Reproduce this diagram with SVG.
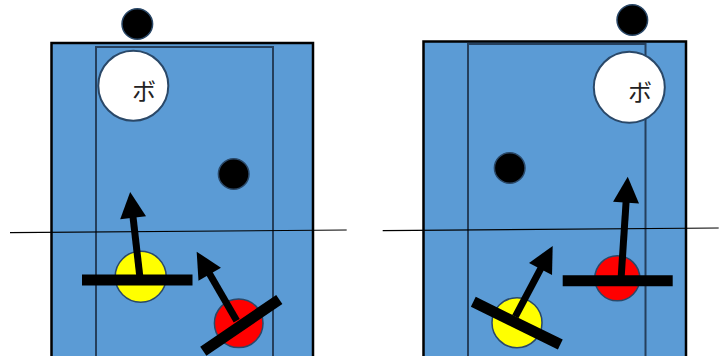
<svg xmlns="http://www.w3.org/2000/svg" width="727" height="356" viewBox="0 0 727 356">
<style>
.court{fill:#5b9bd5;stroke:#000;stroke-width:2.5}
.lane{fill:none;stroke:#253f5c;stroke-width:2}
.net{stroke:#000;stroke-width:1.2}
.ball{fill:#000;stroke:#2a4868;stroke-width:1.5}
.who{fill:#fff;stroke:#2a4868;stroke-width:2}
.yel{fill:#ffff00;stroke:#2a4868;stroke-width:1.5}
.red{fill:#ff0000;stroke:#2a4868;stroke-width:1.5}
.bar{stroke:#000;stroke-width:11}
.arr{stroke:#000;stroke-width:7;marker-end:url(#ah)}
.lbl{font-family:"Liberation Serif","Noto Sans CJK JP",serif;font-size:24px;fill:#222;text-anchor:middle}
</style>
<defs>
<marker id="ah" markerUnits="userSpaceOnUse" markerWidth="30" markerHeight="30" refX="0" refY="0" viewBox="0 -15 30 30" orient="auto" overflow="visible">
<path d="M-1,-13 L25,0 L-1,13 z" fill="#000"/>
</marker>
</defs>
<g id="court-left">
<rect class="court" x="51.5" y="43" width="261.5" height="330"/>
<rect class="lane" x="96" y="47" width="177" height="330"/>
</g>
<g id="court-right">
<rect class="court" x="423.5" y="41.5" width="262.5" height="330"/>
<rect class="lane" x="468" y="44" width="177.5" height="330"/>
</g>
<g id="connectors">
<line class="net" x1="10" y1="232.7" x2="346.7" y2="230"/>
<line class="net" x1="382.7" y1="230.7" x2="718.7" y2="228"/>
</g>
<g id="ball-left-top"><circle class="ball" cx="137.3" cy="24" r="15.3"/></g>
<g id="who-left"><circle class="who" cx="133.3" cy="85.7" r="35"/><text class="lbl" x="144" y="100">ボ</text></g>
<g id="ball-left-mid"><circle class="ball" cx="233.7" cy="174" r="15.3"/></g>
<g id="yellow-left">
<circle class="yel" cx="140.7" cy="276.7" r="25.5"/>
<line class="arr" x1="140" y1="278" x2="133" y2="216.8"/>
<line class="bar" x1="82" y1="280" x2="192.5" y2="280"/>
</g>
<g id="red-left">
<circle class="red" cx="238.7" cy="323.3" r="24.3"/>
<line class="arr" x1="236.7" y1="320.7" x2="209.2" y2="273.3"/>
<line class="bar" x1="203.3" y1="351.2" x2="279.3" y2="299.5"/>
</g>
<g id="ball-right-top"><circle class="ball" cx="632.3" cy="20" r="15.3"/></g>
<g id="who-right"><circle class="who" cx="629.3" cy="87.3" r="35.5"/><text class="lbl" x="640" y="101">ボ</text></g>
<g id="ball-right-mid"><circle class="ball" cx="509.7" cy="168" r="15.3"/></g>
<g id="red-right">
<circle class="red" cx="617.3" cy="278.3" r="22.5"/>
<line class="arr" x1="620.7" y1="284" x2="626.1" y2="201.7"/>
<line class="bar" x1="562.7" y1="280.7" x2="672.7" y2="280.7"/>
</g>
<g id="yellow-right">
<circle class="yel" cx="517" cy="322.7" r="25"/>
<line class="arr" x1="515.3" y1="316.7" x2="541" y2="268.1"/>
<line class="bar" x1="473.3" y1="301.7" x2="560.3" y2="344.5"/>
</g>
</svg>
